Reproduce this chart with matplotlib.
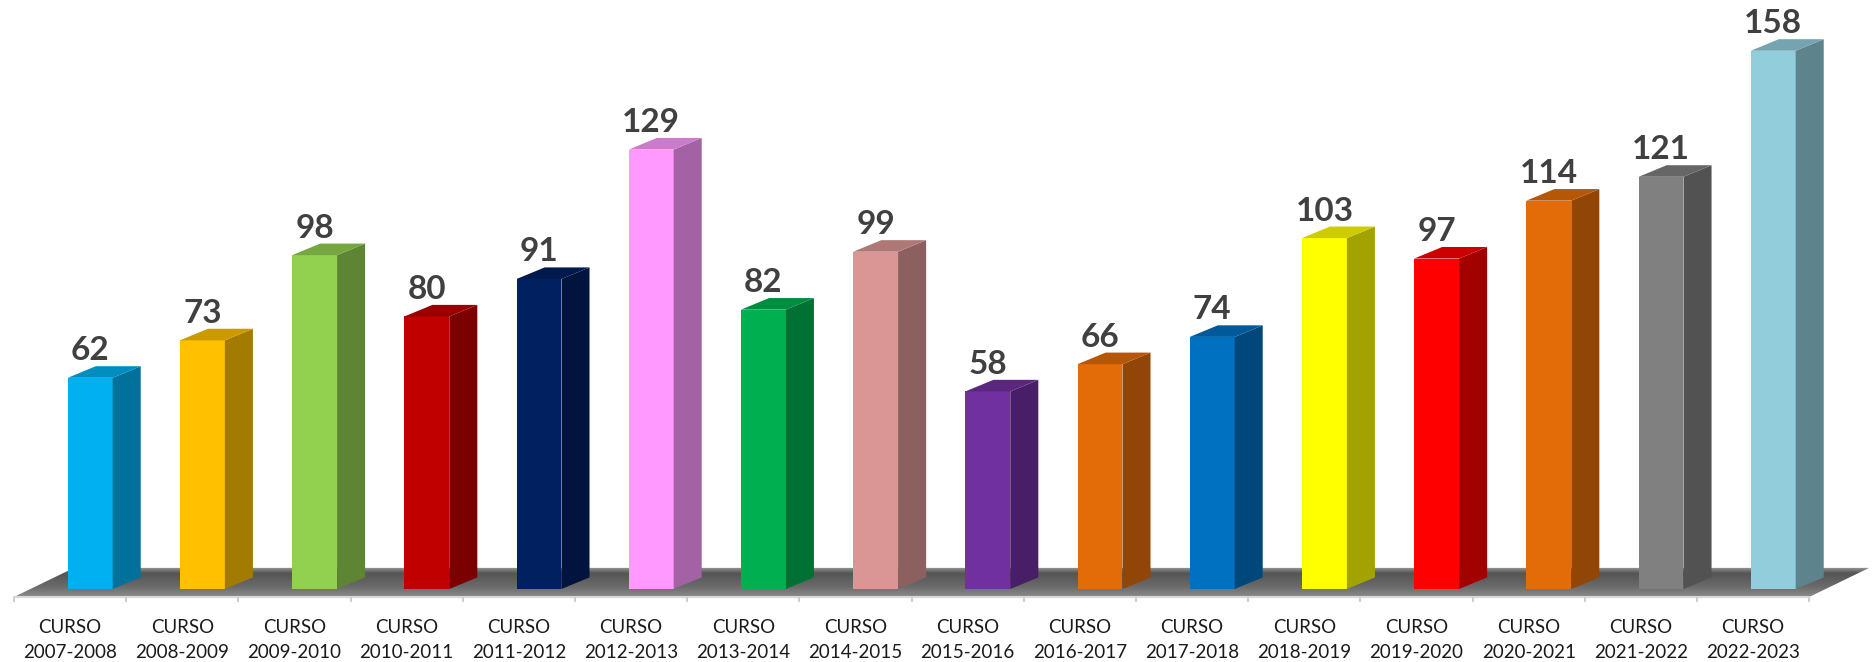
import numpy as np
import matplotlib.pyplot as plt
from matplotlib.patches import Polygon
from matplotlib.colors import to_rgb, LinearSegmentedColormap

# alumnos por curso
cursos = ['2007-2008', '2008-2009', '2009-2010', '2010-2011', '2011-2012',
          '2012-2013', '2013-2014', '2014-2015', '2015-2016', '2016-2017',
          '2017-2018', '2018-2019', '2019-2020', '2020-2021', '2021-2022',
          '2022-2023']
alumnos = [62, 73, 98, 80, 91, 129, 82, 99, 58, 66, 74, 103, 97, 114, 121, 158]
colores = ['#00B0F0', '#FFC000', '#92D050', '#C00000', '#002060', '#FF99FF',
           '#00B050', '#DA9694', '#7030A0', '#E36C09', '#0070C0', '#FFFF00',
           '#FF0000', '#E36C09', '#808080', '#92CDDC']

# profundidad del efecto 3D (unidades de datos)
DX, DY = 0.25, 3.4
ANCHO = 0.40
SUELO_FRENTE, SUELO_FONDO, SUELO_DX = -2.35, 6.2, 0.535


def sombra(color, f):
    r, g, b = to_rgb(color)
    return (r * f, g * f, b * f)


fig = plt.figure(figsize=(18.74, 6.62), dpi=100)
ax = fig.add_axes([0, 0, 1, 1])
ax.set_xlim(-0.624, 16.078)
ax.set_ylim(-21.43, 172.9)
ax.axis('off')

n = len(alumnos)
x = np.arange(n)

# suelo con degradado gris
suelo = Polygon([(-0.5, SUELO_FRENTE), (n - 0.5, SUELO_FRENTE),
                 (n - 0.5 + SUELO_DX, SUELO_FONDO), (-0.5 + SUELO_DX, SUELO_FONDO)],
                closed=True, facecolor='none', edgecolor='none')
ax.add_patch(suelo)
cmap = LinearSegmentedColormap.from_list(
    'suelo', [(0.0, '#8c8c8c'), (0.35, '#6a6a6a'), (0.8, '#555555'), (1.0, '#9a9a9a')])
grad = np.linspace(0, 1, 100).reshape(-1, 1)
img = ax.imshow(grad, cmap=cmap, aspect='auto', origin='lower',
                extent=(-0.5, n - 0.5 + SUELO_DX, SUELO_FRENTE, SUELO_FONDO), zorder=1)
img.set_clip_path(suelo)

# linea del eje y marcas
ax.plot([-0.5, n - 0.5], [SUELO_FRENTE, SUELO_FRENTE], color='#d9d9d9', lw=1.5, zorder=2)
ax.vlines(np.arange(n + 1) - 0.5, SUELO_FRENTE - 1.5, SUELO_FRENTE, color='#cfcfcf', lw=1.5, zorder=2)

# barras: cara frontal
izq = x - 0.02
ax.bar(izq, alumnos, width=ANCHO, align='edge', color=colores, zorder=3)

for i, v in enumerate(alumnos):
    l, r = izq[i], izq[i] + ANCHO
    lado = Polygon([(r, 0), (r + DX, DY), (r + DX, v + DY), (r, v)],
                   closed=True, facecolor=sombra(colores[i], 0.64), edgecolor='none', zorder=3)
    tapa = Polygon([(l, v), (l + DX, v + DY), (r + DX, v + DY), (r, v)],
                   closed=True, facecolor=sombra(colores[i], 0.8), edgecolor='none', zorder=3)
    ax.add_patch(lado)
    ax.add_patch(tapa)
    ax.text(l + ANCHO / 2, v + DY + 0.3, str(v), ha='center', va='bottom',
            fontsize=24, fontweight='bold', color='#404040', family='Lato', zorder=4)
    ax.text(i, -14.9, 'CURSO\n' + cursos[i], ha='center', va='center',
            fontsize=13.5, color='#1a1a1a', family='Lato', linespacing=1.55, zorder=4)

fig.savefig('out.png', dpi=100)
